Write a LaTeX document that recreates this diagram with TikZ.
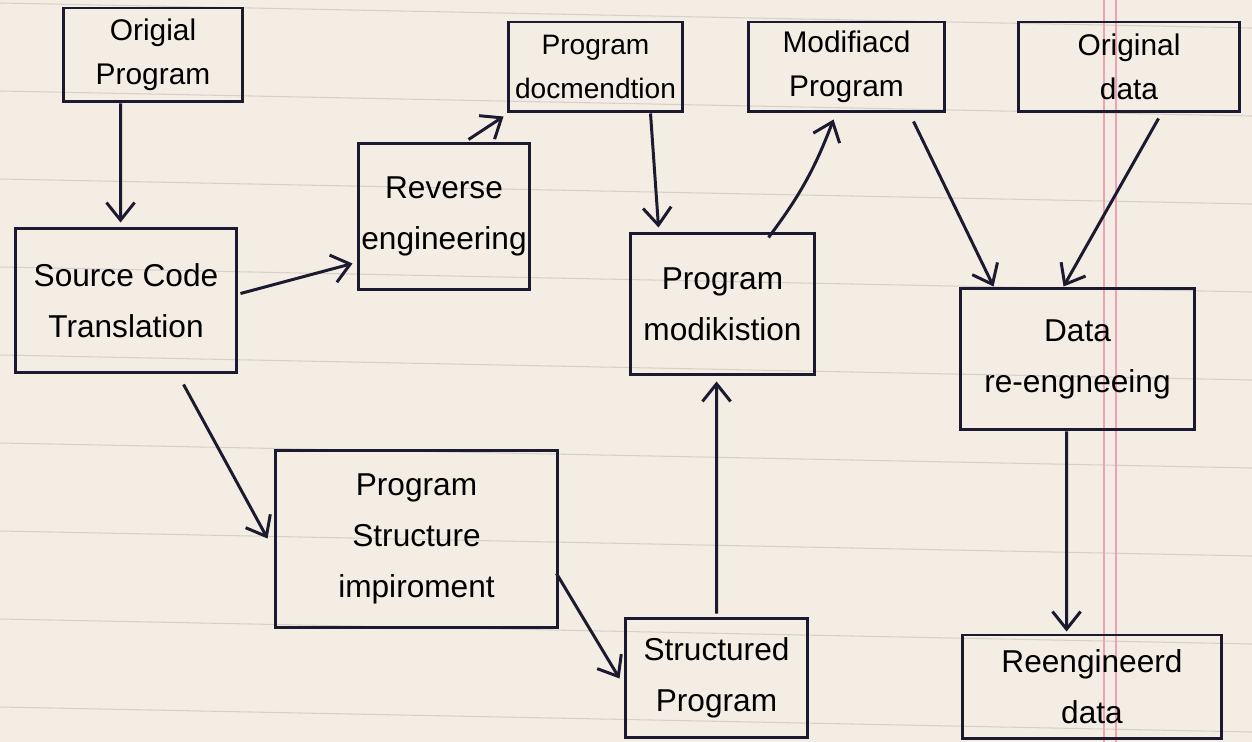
\documentclass[tikz,border=0pt]{standalone}
\usepackage{fontspec}
\setmainfont{Liberation Sans}
\usetikzlibrary{arrows.meta,calc}
\definecolor{paper}{HTML}{F3EDE4}
\definecolor{ink}{HTML}{1C1A30}
\definecolor{rulecol}{HTML}{D6D0CA}
\definecolor{margincol}{HTML}{F2A0B8}
\begin{document}
\begin{tikzpicture}[x=0.02cm,y=-0.02cm,
  box/.style={draw=ink, line width=1.7pt, align=center, inner sep=0pt, text=black,
              font=\fontsize{18}{29}\selectfont},
  topbox/.style={box, font=\fontsize{17}{25}\selectfont},
  arr/.style={draw=ink, line width=1.7pt,
              -{Straight Barb[length=10pt,width=16pt,line width=1.7pt]}}]
\fill[paper] (0,0) rectangle (1252,742);
\useasboundingbox (0,0) rectangle (1252,742);
\foreach \y in {3,91,...,707} \draw[rulecol, line width=0.6pt] (0,\y) -- (1252,\y+25);
\draw[margincol, line width=0.9pt] (1104,0) -- (1104,742) (1116,0) -- (1116,742);

\node[topbox, minimum width=3.6cm,  minimum height=1.88cm] (orig)   at (153,55)    {Origial\\Program};
\node[topbox, minimum width=3.5cm,  minimum height=1.8cm, font=\fontsize{16}{25}\selectfont] (doc) at (595.5,67) {Program\\docmendtion};
\node[topbox, minimum width=3.94cm, minimum height=1.8cm]  (modp)   at (846.5,67)  {Modifiacd\\Program};
\node[topbox, minimum width=4.44cm, minimum height=1.8cm]  (odata)  at (1129,67)   {Original\\data};
\node[box, minimum width=3.44cm, minimum height=2.94cm] (rev)    at (444,216.5) {Reverse\\engineering};
\node[box, minimum width=4.44cm, minimum height=2.9cm]  (src)    at (126,300.5) {Source Code\\Translation};
\node[box, minimum width=3.7cm,  minimum height=2.84cm] (pmod)   at (722.5,304) {Program\\modikistion};
\node[box, minimum width=4.7cm,  minimum height=2.84cm] (dre)    at (1077.5,359) {Data\\re-engneeing};
\node[box, minimum width=5.66cm, minimum height=3.56cm] (pstr)   at (416.5,539) {Program\\Structure\\impiroment};
\node[box, minimum width=3.66cm, minimum height=2.4cm]  (spr)    at (716.5,678) {Structured\\Program};
\node[box, minimum width=5.2cm,  minimum height=2.08cm] (redata) at (1092,687)  {Reengineerd\\data};

\draw[arr] ($(orig.south west)+(59,0)$) -- ($(src.north west)+(107,-4)$);
\draw[arr] ($(src.north east)+(2,67)$) -- ($(rev.north west)+(-4,122)$);
\draw[arr] ($(rev.north west)+(112,-2)$) -- ($(doc.south west)+(-3,3)$);
\draw[arr] ($(doc.south west)+(144,0)$) -- ($(pmod.north west)+(30,-4)$);
\draw[arr] ($(pmod.north west)+(140,6)$) to[bend right=8] ($(modp.south west)+(87,6)$);
\draw[arr] ($(modp.south west)+(167,8)$) -- ($(dre.north west)+(35,0)$);
\draw[arr] ($(odata.south west)+(142,5)$) -- ($(dre.north west)+(105,0)$);
\draw[arr] ($(src.south west)+(170,10)$) -- ($(pstr.north west)+(-6,90)$);
\draw[arr] ($(pstr.north east)+(-3,125)$) -- ($(spr.north west)+(-4,62)$);
\draw[arr] ($(spr.north west)+(93,-3)$) -- ($(pmod.south west)+(88,5)$);
\draw[arr] ($(dre.south west)+(108,0)$) -- ($(redata.north west)+(106,-2)$);
\end{tikzpicture}
\end{document}
